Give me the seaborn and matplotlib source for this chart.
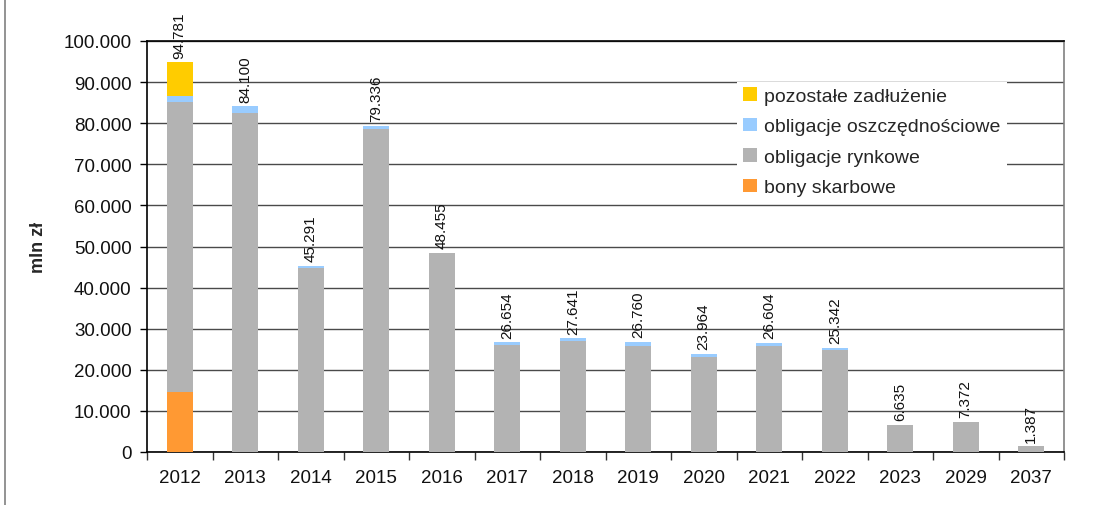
import matplotlib
matplotlib.use("Agg")
import matplotlib.pyplot as plt
from matplotlib.patches import Patch
from matplotlib.lines import Line2D
from matplotlib.ticker import FuncFormatter, FixedLocator
import seaborn as sns
import numpy as np
import pandas as pd

years = ['2012', '2013', '2014', '2015', '2016', '2017', '2018', '2019',
         '2020', '2021', '2022', '2023', '2029', '2037']
bony_skarbowe = [14600, 0, 0, 0, 0, 0, 0, 0, 0, 0, 0, 0, 0, 0]
obligacje_rynkowe = [70600, 82600, 44800, 78700, 48300, 26000, 26900, 25900,
                     23100, 25750, 24850, 6635, 7372, 1387]
obligacje_oszcz = [1400, 1500, 491, 636, 155, 654, 741, 860, 864, 854, 492, 0, 0, 0]
pozostale = [8181, 0, 0, 0, 0, 0, 0, 0, 0, 0, 0, 0, 0, 0]

series_names = ['bony skarbowe', 'obligacje rynkowe', 'obligacje oszczędnościowe',
                'pozostałe zadłużenie']
series_colors = ['#FF9933', '#B3B3B3', '#99CCFF', '#FFCC00']

sns.set_theme(style="white")
plt.rcParams['font.family'] = ['Liberation Sans', 'DejaVu Sans']

fig = plt.figure(figsize=(11.14, 5.06), dpi=100)
ax = fig.add_axes([147/1114, 53/506, 917/1114, 411/506])

stack = np.array([bony_skarbowe, obligacje_rynkowe, obligacje_oszcz, pozostale], dtype=float)
cum = np.cumsum(stack, axis=0)

# draw from the tallest cumulative level down so lower segments overlay
for i in range(3, -1, -1):
    df = pd.DataFrame({'rok': years, 'wartosc': cum[i]})
    sns.barplot(data=df, x='rok', y='wartosc', order=years, color=series_colors[i],
                saturation=1, width=0.4, ax=ax, errorbar=None, linewidth=0, zorder=3)

totals = cum[-1]
def fmt(v):
    s = f"{int(round(v)):,}".replace(',', '.')
    return s

for xi, t in enumerate(totals):
    ax.text(xi, t + 1100, fmt(t), rotation=90, ha='center', va='bottom',
            fontsize=11, color='#111111', clip_on=False, zorder=5)

ax.set_xlim(-0.5, len(years) - 0.5)
ax.set_ylim(0, 100000)
ax.set_yticks(np.arange(0, 100001, 10000))
ax.yaxis.set_major_formatter(FuncFormatter(lambda v, p: fmt(v)))
ax.grid(axis='y', color='#4a4a4a', linewidth=1.0)
ax.grid(axis='x', visible=False)
ax.set_axisbelow(True)

ax.set_xlabel('')
ax.set_ylabel('mln zł', fontsize=13, fontweight='bold', labelpad=12)

ax.tick_params(axis='y', which='major', left=True, length=5, width=1, color='black',
               labelsize=13.5, pad=6, labelcolor='#111111')
ax.tick_params(axis='x', which='major', bottom=False, length=0, labelsize=13.5, pad=12,
               labelcolor='#111111')
ax.xaxis.set_minor_locator(FixedLocator(np.arange(-0.5, len(years), 1.0)))
ax.tick_params(axis='x', which='minor', bottom=True, length=6, width=1, color='#333333')

for side in ['left', 'bottom', 'top']:
    ax.spines[side].set_color('black')
    ax.spines[side].set_linewidth(1.2)
ax.spines['right'].set_color('#808080')
ax.spines['right'].set_linewidth(1.2)

handles = [Patch(facecolor=series_colors[i], edgecolor='none') for i in [3, 2, 1, 0]]
labels = [series_names[i] for i in [3, 2, 1, 0]]
leg = ax.legend(handles, labels, loc='upper left', bbox_to_anchor=(0.633, 0.925),
                frameon=True, facecolor='white', edgecolor='none', framealpha=1,
                fontsize=14, handlelength=0.7, handleheight=0.7, handletextpad=0.4,
                labelspacing=0.66, borderpad=0.3, fancybox=False)
leg.set_zorder(6)

fig.add_artist(Line2D([5/1114, 5/1114], [0, 1], color='#808080', linewidth=1.2,
                      transform=fig.transFigure))

fig.savefig('out.png', dpi=100, facecolor='white')
